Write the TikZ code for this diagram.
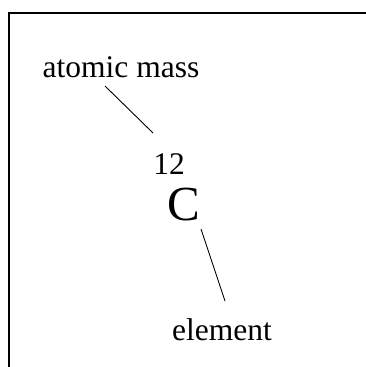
\documentclass[tikz,border=0pt]{standalone}
\usepackage{fontspec}
\setmainfont{Liberation Serif}
\begin{document}
\begin{tikzpicture}[x=1bp,y=-1bp,
  lbl/.style={anchor=base,inner sep=0pt,font=\fontsize{31.5bp}{38bp}\selectfont},
  big/.style={anchor=base,inner sep=0pt,font=\fontsize{49bp}{58bp}\selectfont},
  frame/.style={line width=2bp},
  conn/.style={line width=0.9bp}]
\useasboundingbox (0,0) rectangle (366,367);
\draw[frame] (9,367) -- (9,13) -- (366,13);
\node[lbl] (am) at (121,77) {atomic mass};
\node[lbl] (num) at (169,174) {12};
\node[big] (el) at (184,220) {C};
\node[lbl] (elem) at (222,340) {element};
\coordinate (a1) at (105,86);
\coordinate (a2) at (153,133);
\coordinate (b1) at (201,229);
\coordinate (b2) at (225,301);
\draw[conn] (a1) -- (a2);
\draw[conn] (b1) -- (b2);
\end{tikzpicture}
\end{document}
